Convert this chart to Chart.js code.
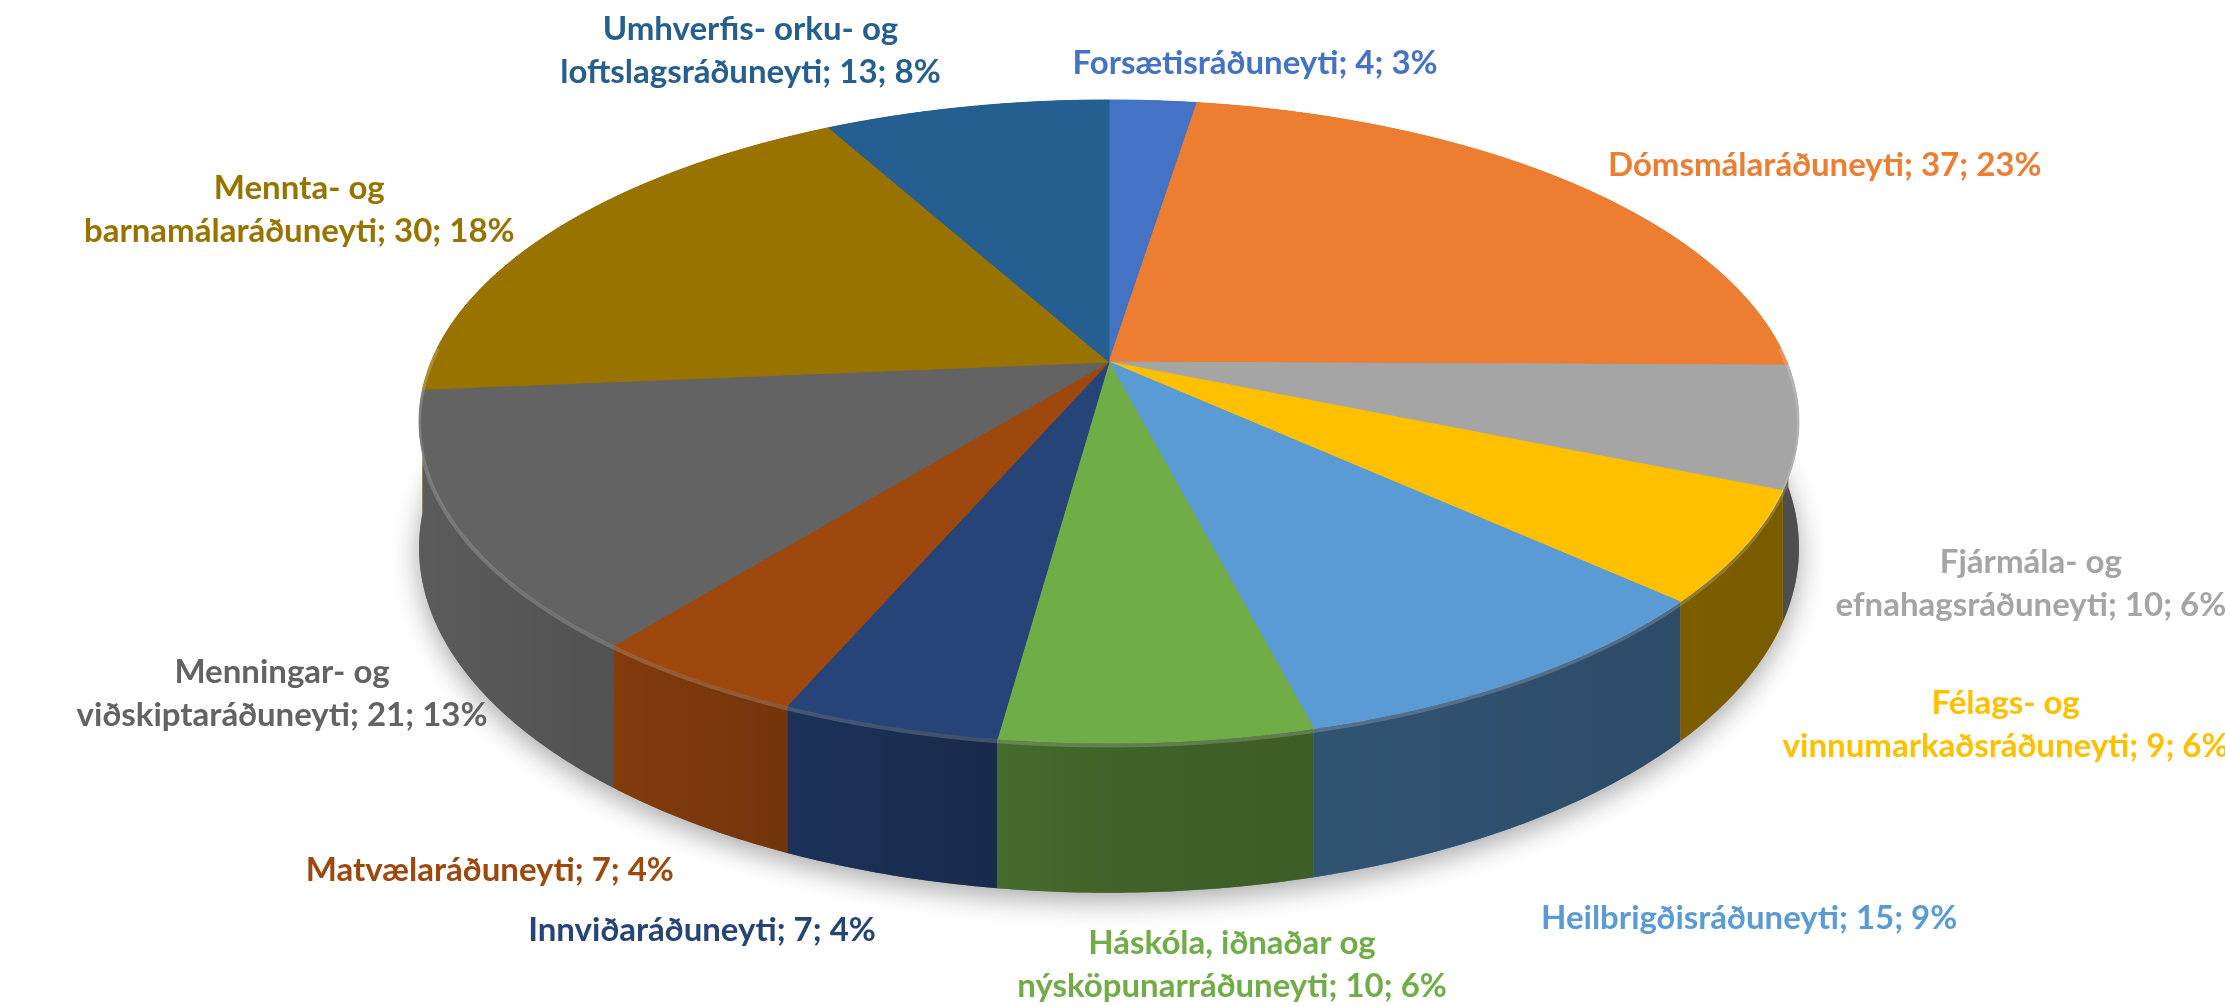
<!DOCTYPE html>
<html>
<head>
<meta charset="utf-8">
<script src="https://cdn.jsdelivr.net/npm/chart.js@4.4.1/dist/chart.umd.min.js"></script>
<style>
  html, body { margin: 0; background: #fff; }
  canvas { display: block; }
</style>
</head>
<body>
<canvas id="chart" width="2225" height="1006"></canvas>
<script>
const categories = [
  "Forsætisráðuneyti",
  "Dómsmálaráðuneyti",
  "Fjármála- og efnahagsráðuneyti",
  "Félags- og vinnumarkaðsráðuneyti",
  "Heilbrigðisráðuneyti",
  "Háskóla, iðnaðar og nýsköpunarráðuneyti",
  "Innviðaráðuneyti",
  "Matvælaráðuneyti",
  "Menningar- og viðskiptaráðuneyti",
  "Mennta- og barnamálaráðuneyti",
  "Umhverfis- orku- og loftslagsráðuneyti"
];
const values = [4, 37, 10, 9, 15, 10, 7, 7, 21, 30, 13];
const colors = [
  "#4472C4", "#ED7D31", "#A5A5A5", "#FFC000", "#5B9BD5", "#70AD47",
  "#264478", "#9E480E", "#636363", "#997300", "#255E91"
];

// where each label sits, relative to the rim point at the slice's middle
const labelOffsets = [
  [102, -37], [254, -17], [232, 157], [262, 177], [226, 240], [75, 223],
  [-187, 204], [-205, 192], [-172, 171], [-260, -17], [-216, -56]
];

// tilted disc: centre, radii, perspective and thickness
const view = { cx: 1109, cy: 362, rx: 678, ry: 310.5, tilt: 0.1851, depth: 122 };

function project(a, drop) {
  const u = Math.cos(a), v = Math.sin(a);
  const w = 1 - view.tilt * v;
  return [view.cx + view.rx * u / w, view.cy + (view.ry * v + drop) / w];
}

function rim(ctx, a0, a1, drop, first) {
  const n = Math.max(2, Math.ceil(Math.abs(a1 - a0) / 0.01));
  for (let i = 0; i <= n; i++) {
    const p = project(a0 + (a1 - a0) * i / n, drop);
    if (first && i === 0) ctx.moveTo(p[0], p[1]);
    else ctx.lineTo(p[0], p[1]);
  }
}

// whole percentages that add up to 100, like Excel's labels
function percents(vals) {
  const total = vals.reduce((s, v) => s + v, 0);
  const raw = vals.map((v) => v / total * 100);
  const out = raw.map(Math.floor);
  let left = 100 - out.reduce((s, v) => s + v, 0);
  raw.map((r, i) => [r - Math.floor(r), i])
    .sort((a, b) => b[0] - a[0])
    .forEach(([, i]) => { if (left > 0) { out[i]++; left--; } });
  return out;
}

const pie3d = {
  id: "pie3d",
  beforeDatasetsDraw(chart) {
    const ctx = chart.ctx;
    const arcs = chart.getDatasetMeta(0).data;
    ctx.save();

    // soft shadow under the disc
    ctx.save();
    ctx.beginPath();
    rim(ctx, 0, Math.PI * 2, view.depth, true);
    ctx.closePath();
    ctx.shadowColor = "rgba(0,0,0,0.35)";
    ctx.shadowBlur = 28;
    ctx.shadowOffsetY = 8;
    ctx.fillStyle = "#777";
    ctx.fill();
    ctx.restore();

    // sides, back ones first
    const order = arcs.map((a, i) => i).sort((i, j) => {
      const mi = (arcs[i].startAngle + arcs[i].endAngle) / 2;
      const mj = (arcs[j].startAngle + arcs[j].endAngle) / 2;
      return Math.sin(mi) - Math.sin(mj);
    });
    const shade = ctx.createLinearGradient(view.cx - 690, 0, view.cx + 690, 0);
    shade.addColorStop(0, "rgba(0,0,0,0.08)");
    shade.addColorStop(0.5, "rgba(0,0,0,0.43)");
    shade.addColorStop(1, "rgba(0,0,0,0.53)");
    order.forEach((i) => {
      const arc = arcs[i];
      ctx.beginPath();
      rim(ctx, arc.startAngle, arc.endAngle, 0, true);
      rim(ctx, arc.endAngle, arc.startAngle, view.depth, false);
      ctx.closePath();
      ctx.fillStyle = colors[i];
      ctx.fill();
      ctx.fillStyle = shade;
      ctx.fill();
    });

    // top face
    arcs.forEach((arc, i) => {
      ctx.beginPath();
      ctx.moveTo(view.cx, view.cy);
      rim(ctx, arc.startAngle, arc.endAngle, 0, false);
      ctx.closePath();
      ctx.fillStyle = colors[i];
      ctx.fill();
      ctx.strokeStyle = colors[i];
      ctx.lineWidth = 1;
      ctx.stroke();
    });

    // light bevel on the front rim
    ctx.beginPath();
    rim(ctx, -0.05, Math.PI + 0.05, 2, true);
    ctx.strokeStyle = "rgba(255,255,255,0.18)";
    ctx.lineWidth = 4;
    ctx.stroke();

    ctx.restore();
    return false;
  },
  afterDraw(chart) {
    const ctx = chart.ctx;
    const arcs = chart.getDatasetMeta(0).data;
    const pct = percents(values);
    ctx.save();
    ctx.font = "700 33px Lato";
    ctx.textAlign = "center";
    ctx.textBaseline = "middle";
    arcs.forEach((arc, i) => {
      const mid = (arc.startAngle + arc.endAngle) / 2;
      const p = project(mid, 0);
      const x = p[0] + labelOffsets[i][0];
      const y = p[1] + labelOffsets[i][1];
      const tail = "; " + values[i] + "; " + pct[i] + "%";
      const name = categories[i];
      const k = name.indexOf(" og ");
      const lines = k < 0 ? [name + tail] : [name.slice(0, k + 3), name.slice(k + 4) + tail];
      const lh = 43;
      ctx.fillStyle = colors[i];
      lines.forEach((t, j) => {
        ctx.fillText(t, x, y + (j - (lines.length - 1) / 2) * lh);
      });
    });
    ctx.restore();
  }
};

new Chart(document.getElementById("chart"), {
  type: "pie",
  data: {
    labels: categories,
    datasets: [{ data: values, backgroundColor: colors, borderWidth: 0 }]
  },
  options: {
    responsive: false,
    animation: false,
    plugins: { legend: { display: false }, tooltip: { enabled: false } }
  },
  plugins: [pie3d]
});
</script>
</body>
</html>
